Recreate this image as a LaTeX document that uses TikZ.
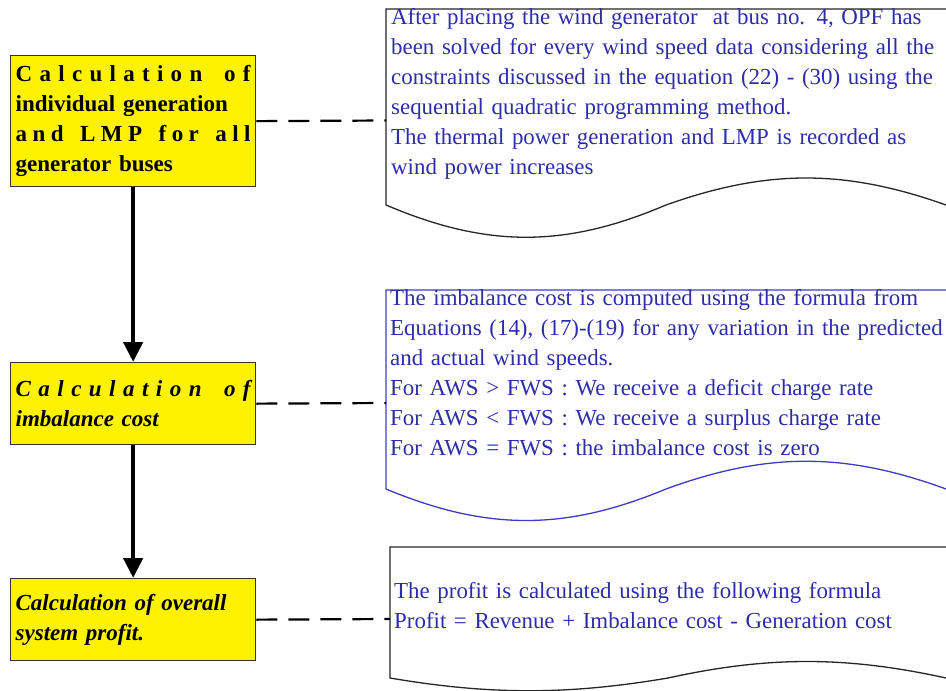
\documentclass[tikz,border=0pt]{standalone}
\usepackage{fontspec}
\setmainfont{Liberation Serif}
\usetikzlibrary{arrows.meta}
\definecolor{docblue}{RGB}{45,45,170}
\definecolor{docedgeblue}{RGB}{60,60,200}
\newcommand{\hf}{\hfill}
\newcommand{\wf}{\hfill\hfill\hfill}
\begin{document}
\begin{tikzpicture}[x=1pt,y=-1pt,
  procbox/.style={draw=black!80, line width=1.3pt, fill=yellow, text width=235pt,
    inner xsep=5pt, inner ysep=0pt, anchor=north west, align=left,
    font=\fontsize{23}{30}\selectfont\bfseries},
  doctext/.style={anchor=base west, inner sep=0pt, text width=700pt, align=left,
    text=docblue, font=\fontsize{22.9}{30}\selectfont},
  docedge/.style={line width=1.3pt, draw=black!85},
  flow/.style={line width=4.5pt, -{Triangle[width=19pt,length=20pt]}},
  link/.style={line width=2.2pt, dash pattern=on 21pt off 11pt}
]
\useasboundingbox (0,0) rectangle (946,691);
\fill[white] (0,0) rectangle (946,691);

% process boxes
\node[procbox, minimum height=131pt] (b1) at (10,55)
  {\makebox[235pt][s]{C\hf a\hf l\hf c\hf u\hf l\hf a\hf t\hf i\hf o\hf n\wf o\hf f}\\
   \makebox[235pt][s]{individual generation}\\
   \makebox[235pt][s]{a\hf n\hf d\wf L\hf M\hf P\wf f\hf o\hf r\wf a\hf l\hf l}\\
   generator buses};
\node[procbox, minimum height=82pt, font=\fontsize{23}{30}\selectfont\bfseries\itshape] (b2) at (10,362)
  {\makebox[235pt][s]{C\hf a\hf l\hf c\hf u\hf l\hf a\hf t\hf i\hf o\hf n\wf o\hf f}\\
   imbalance cost};
\node[procbox, minimum height=82pt, font=\fontsize{23}{30}\selectfont\bfseries\itshape] (b3) at (10,578)
  {\makebox[235pt][s]{Calculation of overall}\\
   system profit.};

\draw[flow] (b1) -- (b2);
\draw[flow] (b2) -- (b3);

% documents
\draw[docedge] (946,9) -- (386,9) -- (386,205)
  .. controls (487,248) and (565,248) .. (666,205)
  .. controls (767,169) and (845,169) .. (946,205);
\draw[docedge, draw=docedgeblue] (946,290) -- (386,290) -- (386,489)
  .. controls (487,531) and (565,531) .. (666,489)
  .. controls (767,452) and (845,452) .. (946,489);
\draw[docedge] (946,547) -- (390,547) -- (390,678)
  .. controls (490,695) and (568,695) .. (668,678)
  .. controls (768,656) and (846,656) .. (946,678);

\coordinate (d1) at (386,120.5);
\coordinate (d2) at (386,403);
\coordinate (d3) at (390,619);
\draw[link] (b1.east) -- (d1);
\draw[link] (b2.east) -- (d2);
\draw[link] (b3.east) -- (d3);

\node[doctext] (t1) at (391,24)
  {After placing the wind generator\ \ at bus no. 4, OPF has\\
   been solved for every wind speed data considering all the\\
   constraints discussed in the equation (22) - (30) using the\\
   sequential quadratic programming method.\\
   The thermal power generation and LMP is recorded as\\
   wind power increases};
\node[doctext] (t2) at (390,305)
  {The imbalance cost is computed using the formula from\\
   Equations (14), (17)-(19) for any variation in the predicted\\
   and actual wind speeds.\\
   For AWS > FWS : We receive a deficit charge rate\\
   For AWS < FWS : We receive a surplus charge rate\\
   For AWS = FWS : the imbalance cost is zero};
\node[doctext] (t3) at (394,598)
  {The profit is calculated using the following formula\\
   Profit = Revenue + Imbalance cost - Generation cost};
\end{tikzpicture}
\end{document}
